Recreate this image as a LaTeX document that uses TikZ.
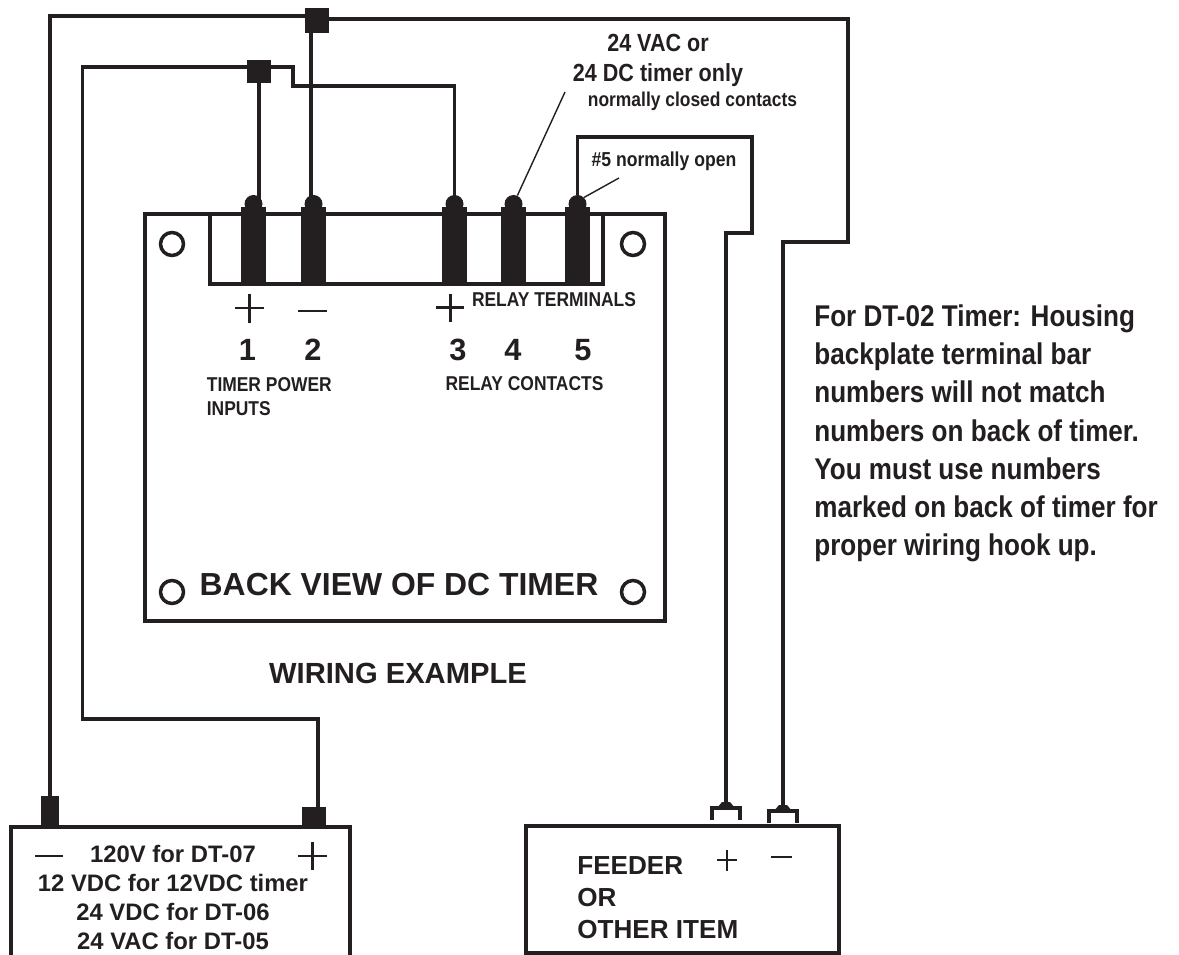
\documentclass[tikz,border=0pt]{standalone}
\usepackage{fontspec}
\setmainfont{Liberation Sans}
\newfontfamily\condfont[FakeStretch=0.87]{Liberation Sans}
\definecolor{InkBlack}{RGB}{35,31,32}
\usetikzlibrary{positioning,calc}

\begin{document}
\begin{tikzpicture}[
    x=0.02cm, y=-0.02cm,
    wire/.style={line width=2pt, InkBlack},
    frame/.style={line width=2.1pt, InkBlack},
    pinbody/.style={fill=InkBlack, minimum width=0.5cm, minimum height=1.54cm, inner sep=0pt},
    pinhead/.style={circle, fill=InkBlack, minimum size=0.36cm, inner sep=0pt},
    block/.style={fill=InkBlack, inner sep=0pt},
    hole/.style={circle, draw=InkBlack, line width=2pt, minimum size=0.46cm, inner sep=0pt},
    lbl/.style={inner sep=0pt, text=InkBlack, align=center, anchor=base},
    note/.style={line width=0.8pt, InkBlack},
    sign/.style={line width=1.7pt, InkBlack},
    thinsign/.style={line width=1.3pt, InkBlack}
]
\useasboundingbox (0,0) rectangle (1179,955);

% back of timer
\draw[frame] (145,621) -- (145,214) -- (665,214) -- (665,621) -- cycle;
\draw[frame] (210,214) -- (210,284) -- (603,284) -- (603,214);

\node[hole] (holea) at (172,244) {};
\node[hole] (holeb) at (633,244) {};
\node[hole] (holec) at (172,592) {};
\node[hole] (holed) at (633,592) {};

% terminals
\foreach \name/\xpos in {one/253.5, two/313.5, three/454.5, four/513.5, five/577.5} {
  \node[pinhead] (head\name) at (\xpos,204) {};
  \node[pinbody] (\name) at (\xpos,245.5) {};
}

% junction blocks
\node[block, minimum width=0.48cm, minimum height=0.50cm] (topblock) at (317,20.5) {};
\node[block, minimum width=0.48cm, minimum height=0.46cm] (midblock) at (259,71.5) {};
\node[block, minimum width=0.36cm, minimum height=0.62cm] (minusblock) at (50,811.5) {};
\node[block, minimum width=0.48cm, minimum height=0.40cm] (plusblock) at (314,817) {};

% source and load
\draw[frame] (11,955) -- (11,827) -- (350,827) -- (350,955);
\draw[frame] (526,953) -- (526,826) -- (839,826) -- (839,953) -- cycle;

% caps on the load
\foreach \name/\xpos/\ypos in {capa/726/808, capb/783/811} {
  \draw[wire] (\xpos-14,\ypos+12) -- (\xpos-14,\ypos) -- (\xpos+14,\ypos) -- (\xpos+14,\ypos+12);
  \fill[InkBlack] (\xpos-9,\ypos) -- (\xpos-4,\ypos-6) -- (\xpos+4,\ypos-6) -- (\xpos+9,\ypos) -- cycle;
  \coordinate (\name) at (\xpos,\ypos);
}

% wires
\coordinate (taptwo) at (311,204);
\coordinate (tapplus) at (318,810);
\draw[wire] (minusblock.north) -- (minusblock.north |- 0,16) -- (topblock.west |- 0,16);
\draw[wire] (topblock.east |- 0,19) -- (848,19) -- (848,242) -- (capb |- 0,242) -- (capb);
\draw[wire] (topblock.south -| taptwo) -- (taptwo);
\draw[wire] (tapplus) -- (318,719) -- (82.7,719) -- (82.7,67) -- (midblock.west |- 0,67);
\draw[wire] (midblock) -- (midblock |- headone);
\draw[wire] (midblock.east |- 0,67) -- (293,67) -- (293,86) -- (headthree |- 0,86) -- (headthree);
\draw[wire] (headfive) -- (headfive |- 0,137) -- (752,137) -- (752,233) -- (capa |- 0,233) -- (capa);

% leaders
\draw[note] (headfour) -- (565,92);
\draw[note] (headfive.north east) -- (619,178);

% signs
\draw[sign] (235,308) -- (264,308) (249.5,294) -- (249.5,323);
\draw[sign] (298,311) -- (326.5,311);
\draw[sign] (436,307.5) -- (464,307.5) (450,294) -- (450,322);
\draw[sign] (35,856) -- (63,856);
\draw[sign] (298,856) -- (327,856) (312.5,842) -- (312.5,870);
\draw[thinsign] (717,860) -- (737,860) (727,850) -- (727,871);
\draw[thinsign] (771,857) -- (792,857);

% labels
\node[lbl, font=\condfont\bfseries\fontsize{14.1pt}{16pt}\selectfont] (topnote) at (658,52) {24 VAC or};
\node[lbl, font=\condfont\bfseries\fontsize{14.1pt}{16pt}\selectfont] (topnoteb) at (658,82) {24 DC timer only};
\node[lbl, font=\condfont\bfseries\fontsize{11.4pt}{13pt}\selectfont] (closednote) at (692.5,107) {normally closed contacts};
\node[lbl, font=\condfont\bfseries\fontsize{11.5pt}{13pt}\selectfont] (opennote) at (664,167) {\#5 normally open};
\node[lbl, font=\condfont\bfseries\fontsize{11.4pt}{13pt}\selectfont] (relayterm) at (554,307) {RELAY TERMINALS};
\foreach \name/\xpos/\digit in {numa/247.5/1, numb/313/2, numc/458/3, numd/513/4, nume/583/5} {
  \node[lbl, font=\bfseries\fontsize{17.5pt}{20pt}\selectfont] (\name) at (\xpos,361) {\digit};
}
\node[lbl, anchor=base west, align=left, font=\condfont\bfseries\fontsize{11.4pt}{14.2pt}\selectfont] (power) at (206.5,416) {TIMER POWER\\INPUTS};
\node[lbl, font=\condfont\bfseries\fontsize{11.4pt}{13pt}\selectfont] (contacts) at (524.5,391) {RELAY CONTACTS};
\node[lbl, font=\bfseries\fontsize{18.15pt}{20pt}\selectfont] (title) at (399,595) {BACK VIEW OF DC TIMER};
\node[lbl, font=\bfseries\fontsize{16.6pt}{19pt}\selectfont] (example) at (398,683) {WIRING EXAMPLE};
\node[lbl, anchor=base west, align=left, font=\condfont\bfseries\fontsize{17.06pt}{21.8pt}\selectfont] (dtnote) at (814,556) {For DT-02 Timer: Housing\\backplate terminal bar\\numbers will not match\\numbers on back of timer.\\You must use numbers\\marked on back of timer for\\proper wiring hook up.};
\node[lbl, font=\bfseries\fontsize{13.56pt}{16.4pt}\selectfont] (source) at (173,949) {120V for DT-07\\12 VDC for 12VDC timer\\24 VDC for DT-06\\24 VAC for DT-05};
\node[lbl, anchor=base west, align=left, font=\bfseries\fontsize{14.85pt}{18.1pt}\selectfont] (load) at (577,938) {FEEDER\\OR\\OTHER ITEM};
\end{tikzpicture}
\end{document}
